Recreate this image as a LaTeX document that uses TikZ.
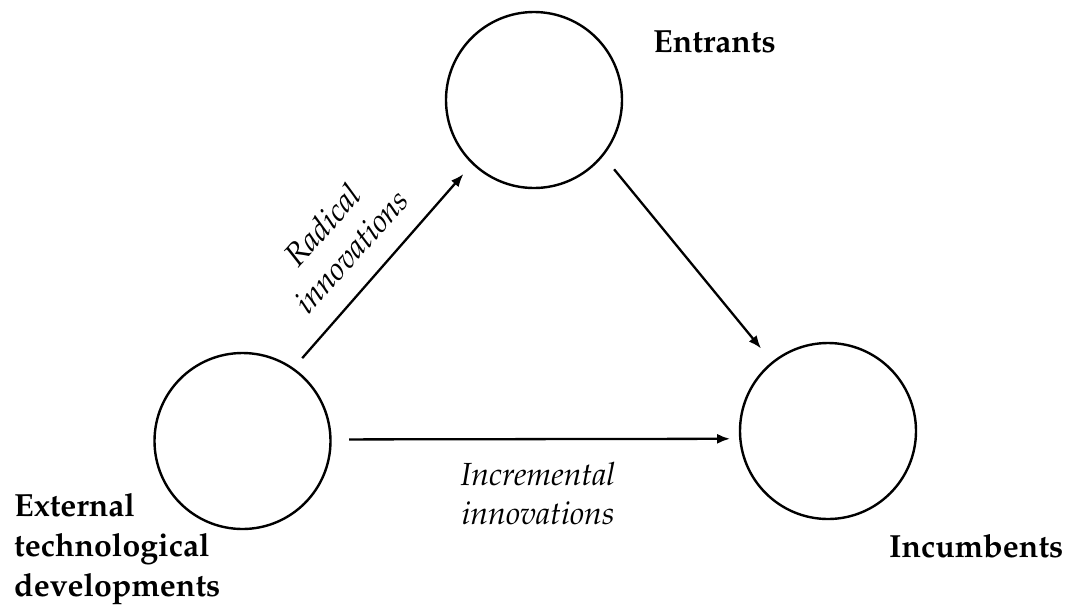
\documentclass[tikz,border=0pt]{standalone}
\usepackage[T1]{fontenc}
\usepackage{mathpazo}
\usetikzlibrary{arrows.meta}
\begin{document}
\begin{tikzpicture}[x=1pt,y=-1pt,
  actor/.style={draw=black, line width=2.4pt, circle, minimum size=176pt, inner sep=0pt},
  flow/.style={line width=2.3pt, -{Latex[length=13pt,width=10pt]}},
  bigbold/.style={font=\fontsize{32}{40}\selectfont\bfseries, inner sep=0pt},
  bigital/.style={font=\fontsize{32}{39}\selectfont\itshape, inner sep=0pt, align=center}]
\useasboundingbox (0,0) rectangle (1069,606);
\node[actor] (ent) at (534,100) {};
\node[actor] (ext) at (242.5,441) {};
\node[actor] (inc) at (828,431) {};
\node[bigbold, anchor=base west] (entl) at (653,52) {Entrants};
\node[bigbold, anchor=base west] (incl) at (889,557) {Incumbents};
\node[bigbold, anchor=north west, align=left] (extl) at (14,493.5) {External\\technological\\developments};
\draw[flow, shorten <=13pt, shorten >=13pt] (ext.55.6) -- (ent.226.2);
\draw[flow, shorten <=17pt, shorten >=17pt] (ent.-39.3) -- (inc.129.9);
\draw[flow, shorten <=17.5pt, shorten >=9pt] (ext.1.3) -- (inc.185.2);
\node[bigital, anchor=north] (incr) at (538,462.5) {Incremental\\innovations};
\node[bigital, rotate=48] (rad) at (337,238) {Radical\\innovations};
\end{tikzpicture}
\end{document}
